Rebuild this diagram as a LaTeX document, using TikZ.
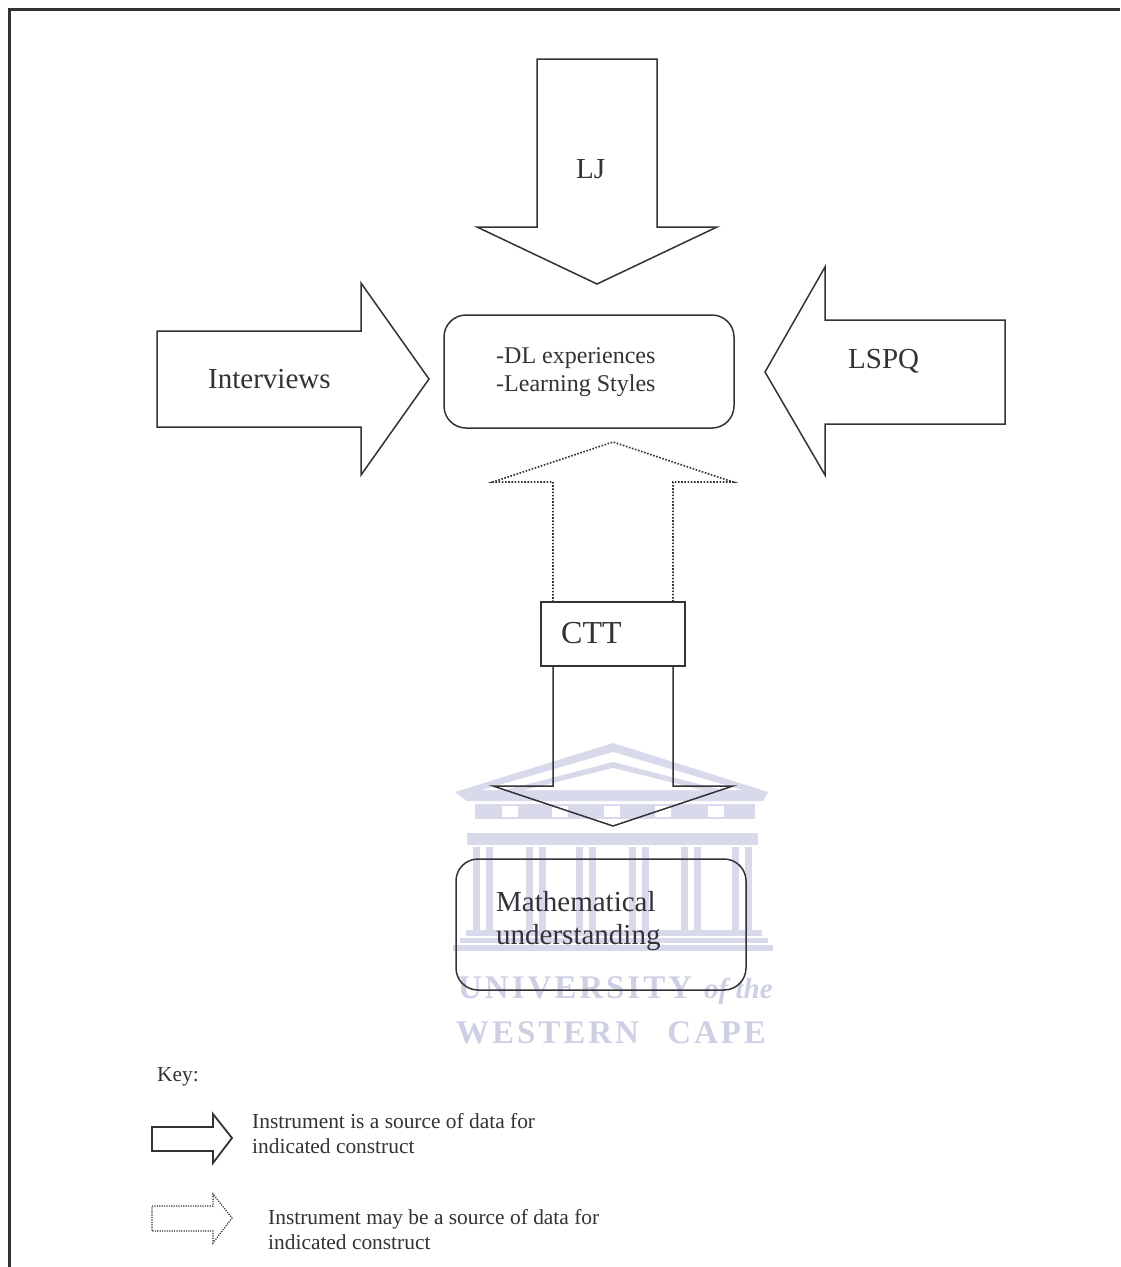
\documentclass[tikz,border=0pt]{standalone}
\usepackage{fontspec}
\setmainfont{Liberation Serif}
\newfontfamily\crestfont[LetterSpace=9]{Liberation Serif}
\definecolor{inkline}{RGB}{50,50,55}
\definecolor{crest}{RGB}{216,218,236}
\definecolor{cresttype}{RGB}{205,208,228}
\tikzset{
  blockarrow/.style={draw=inkline,line width=1.5pt,line join=miter},
  dotarrow/.style={draw=inkline,line width=1.6pt,dash pattern=on 1.6pt off 1.6pt},
  roundbox/.style={draw=inkline,line width=1.5pt,rounded corners=22pt},
  biglabel/.style={text=inkline,font=\fontsize{29}{33}\selectfont,align=left,inner sep=0pt},
  midlabel/.style={text=inkline,font=\fontsize{24}{28}\selectfont,align=left,inner sep=0pt},
  keylabel/.style={text=inkline,font=\fontsize{21.4}{25}\selectfont,align=left,inner sep=0pt},
  cresttext/.style={text=cresttype,font=\crestfont\bfseries\fontsize{33}{33}\selectfont,inner sep=0pt}
}
\begin{document}
\begin{tikzpicture}[x=1pt,y=-1pt]
  \useasboundingbox (0,0) rectangle (1120,1267);
  \fill[white] (0,0) rectangle (1120,1267);
  % crest behind the boxes
  \fill[crest] (455,792) -- (613,743) -- (768,792) -- (763,801) -- (467,801) -- cycle;
  \fill[white] (482,790) -- (613,752) -- (742,790) -- cycle;
  \fill[crest] (505,790) -- (613,762) -- (722,790) -- cycle;
  \fill[white] (525,790) -- (613,768) -- (702,790) -- cycle;
  \fill[crest] (475,804) rectangle (755,819);
  \foreach \c in {510,560,612,663,716}
    \fill[white] (\c-8,806) rectangle (\c+8,817);
  \fill[crest] (467,833) rectangle (758,845);
  \foreach \c in {483,536,586,639,691,742}{
    \fill[crest] (\c-10,847) rectangle (\c-3,930);
    \fill[crest] (\c+3,847) rectangle (\c+10,930);
  }
  \fill[crest] (466,930) rectangle (762,936);
  \fill[crest] (460,938) rectangle (768,943);
  \fill[crest] (453,945) rectangle (773,951);
  \node[cresttext,anchor=base west] (university) at (458,998) {UNIVERSITY};
  \node[cresttext,anchor=base west,font=\bfseries\itshape\fontsize{29}{29}\selectfont] (ofthe) at (704,998) {of the};
  \node[cresttext,anchor=base west] (westerncape) at (456,1043) {WESTERN\hspace{17pt} CAPE};
  % frame, open at the foot and on the right
  \draw[inkline,line width=3.2pt] (9.5,1267) -- (9.5,9.5) -- (1120,9.5);
  % constructs
  \node[roundbox,minimum width=290pt,minimum height=113pt] (styles) at (589,371.5) {};
  \node[roundbox,minimum width=290pt,minimum height=131pt] (maths) at (601,924.5) {};
  \node[midlabel,anchor=base west] (stylestext) at (496,391) {-DL experiences\\-Learning Styles};
  \node[biglabel,anchor=base west] (mathstext) at (496,944) {Mathematical\\understanding};
  % instruments
  \draw[blockarrow] (537,59) -- (657,59) -- (657,227) -- (717,227) -- (597,284) -- (477,227) -- (537,227) -- cycle;
  \draw[blockarrow] (157,331) -- (361,331) -- (361,283) -- (429,379) -- (361,475) -- (361,427) -- (157,427) -- cycle;
  \draw[blockarrow] (1005,320) -- (825,320) -- (825,267) -- (765,372) -- (825,475) -- (825,424) -- (1005,424) -- cycle;
  \draw[dotarrow] (553,602) -- (553,482) -- (493,482) -- (613,442) -- (733,482) -- (673,482) -- (673,602);
  \node[draw=inkline,line width=2pt,minimum width=144pt,minimum height=64pt] (ctt) at (613,634) {};
  \draw[blockarrow] (553,666) -- (553,786) -- (493,786) -- (613,826) -- (733,786) -- (673,786) -- (673,666);
  \node[biglabel,anchor=base west] (ljtext) at (576,178) {LJ};
  \node[biglabel,anchor=base west] (interviewstext) at (208,388) {Interviews};
  \node[biglabel,anchor=base west] (lspqtext) at (848,368) {LSPQ};
  \node[biglabel,anchor=base west,font=\fontsize{32}{33}\selectfont] (ctttext) at (561,643) {CTT};
  % key
  \node[keylabel,anchor=base west] (keytext) at (157,1081) {Key:};
  \draw[blockarrow,line width=1.8pt] (152,1127) -- (213,1127) -- (213,1114) -- (232,1138) -- (213,1163) -- (213,1151) -- (152,1151) -- cycle;
  \node[keylabel,anchor=base west] (solidtext) at (252,1153) {Instrument is a source of data for\\indicated construct};
  \draw[dotarrow,line width=1.2pt,dash pattern=on 1.2pt off 1.2pt] (152,1206) -- (213,1206) -- (213,1194) -- (232,1218) -- (213,1243) -- (213,1231) -- (152,1231) -- cycle;
  \node[keylabel,anchor=base west] (dottedtext) at (268,1249) {Instrument may be a source of data for\\indicated construct};
\end{tikzpicture}
\end{document}
